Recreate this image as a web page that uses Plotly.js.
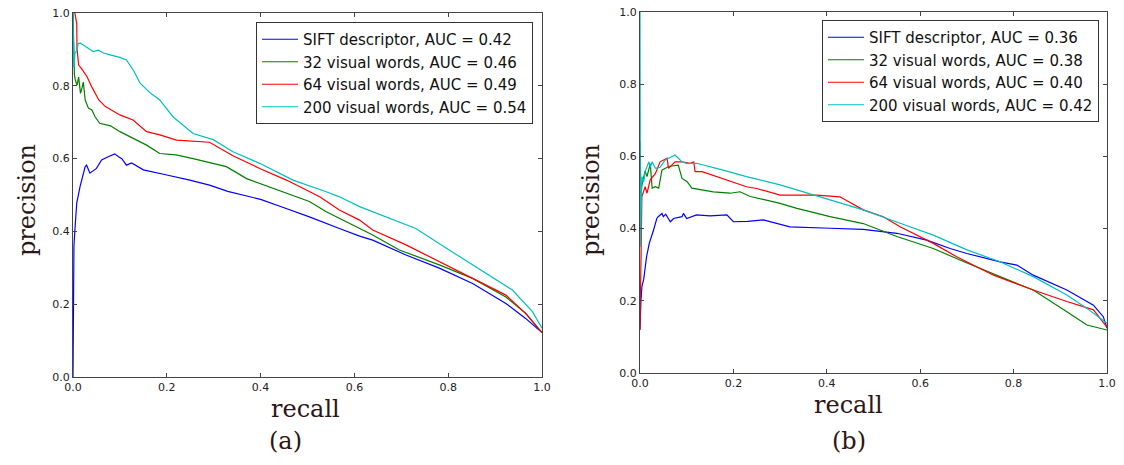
<!DOCTYPE html>
<html>
<head>
<meta charset="utf-8">
<script src="https://cdn.plot.ly/plotly-3.0.1.min.js"></script>
<style>html,body{margin:0;padding:0;background:#fff;}#chart{width:1124px;height:465px;}</style>
</head>
<body>
<div id="chart"></div>
<script>
// ---------- Data: panel (a) ----------
const seriesNames = ["SIFT descriptor", "32 visual words", "64 visual words", "200 visual words"];
const aucA = ["0.42", "0.46", "0.49", "0.54"];
const aucB = ["0.36", "0.38", "0.40", "0.42"];
const tickVals = [0, 0.2, 0.4, 0.6, 0.8, 1.0];
const tickText = ["0.0", "0.2", "0.4", "0.6", "0.8", "1.0"];

const siftA_recall = [0,0.001,0.002,0.004,0.008,0.015,0.019,0.026,0.029,0.036,0.05,0.061,0.075,0.089,0.097,0.104,0.114,0.125,0.15,0.185,0.2,0.249,0.291,0.33,0.4,0.45,0.504,0.568,0.611,0.639,0.71,0.781,0.852,0.923,0.965,1.0];
const siftA_prec   = [0,0.2,0.36,0.404,0.478,0.523,0.541,0.578,0.582,0.56,0.573,0.596,0.605,0.613,0.605,0.6,0.582,0.588,0.569,0.56,0.555,0.541,0.527,0.51,0.488,0.465,0.44,0.408,0.387,0.376,0.335,0.299,0.257,0.202,0.161,0.122];

const w32A_recall = [0,0.003,0.005,0.0085,0.012,0.016,0.019,0.022,0.026,0.033,0.04,0.047,0.057,0.08,0.1,0.128,0.157,0.185,0.22,0.256,0.327,0.37,0.398,0.433,0.504,0.54,0.568,0.611,0.639,0.696,0.781,0.852,0.923,0.965,1.0];
const w32A_prec   = [1.0,0.83,0.816,0.802,0.824,0.779,0.793,0.81,0.761,0.738,0.734,0.715,0.697,0.69,0.674,0.655,0.637,0.614,0.61,0.6,0.578,0.545,0.532,0.514,0.482,0.454,0.436,0.408,0.39,0.349,0.308,0.271,0.22,0.175,0.122];

const w64A_recall = [0.004,0.008,0.0085,0.012,0.019,0.03,0.04,0.055,0.069,0.1,0.128,0.157,0.185,0.221,0.291,0.327,0.341,0.398,0.455,0.526,0.568,0.611,0.639,0.71,0.781,0.852,0.923,0.965,1.0];
const w64A_prec   = [1.0,0.97,0.902,0.857,0.846,0.825,0.797,0.761,0.743,0.72,0.706,0.674,0.665,0.651,0.645,0.62,0.608,0.573,0.541,0.495,0.459,0.431,0.404,0.363,0.317,0.271,0.225,0.175,0.122];

const w200A_recall = [0,0.002,0.004,0.0085,0.011,0.016,0.022,0.03,0.043,0.054,0.065,0.079,0.1,0.114,0.13,0.143,0.165,0.185,0.213,0.256,0.299,0.327,0.341,0.398,0.469,0.54,0.568,0.611,0.639,0.731,0.802,0.88,0.937,0.98,1.0];
const w200A_prec   = [1.0,0.85,0.889,0.898,0.916,0.917,0.912,0.905,0.894,0.898,0.89,0.885,0.878,0.871,0.84,0.807,0.78,0.761,0.715,0.669,0.652,0.63,0.619,0.587,0.541,0.509,0.495,0.468,0.454,0.408,0.349,0.285,0.239,0.179,0.134];

// ---------- Data: panel (b) ----------
const siftB_recall = [0,0.001,0.002,0.004,0.008,0.014,0.02,0.029,0.036,0.039,0.047,0.05,0.055,0.065,0.072,0.09,0.093,0.1,0.121,0.15,0.186,0.2,0.23,0.264,0.321,0.407,0.478,0.55,0.614,0.664,0.7,0.771,0.807,0.842,0.914,0.971,0.992,1.0];
const siftB_prec   = [0.12,0.17,0.2,0.239,0.26,0.322,0.36,0.396,0.428,0.433,0.442,0.433,0.44,0.419,0.428,0.433,0.442,0.428,0.438,0.435,0.438,0.419,0.42,0.424,0.405,0.401,0.398,0.387,0.368,0.345,0.331,0.308,0.299,0.271,0.23,0.188,0.156,0.124];

const w32B_recall = [0,0.002,0.004,0.008,0.011,0.015,0.019,0.022,0.026,0.033,0.04,0.047,0.061,0.075,0.082,0.09,0.101,0.111,0.133,0.157,0.193,0.214,0.236,0.3,0.336,0.407,0.478,0.55,0.628,0.685,0.771,0.842,0.914,0.957,1.0];
const w32B_prec   = [0.64,0.5,0.52,0.544,0.56,0.544,0.567,0.58,0.512,0.516,0.512,0.562,0.572,0.576,0.576,0.539,0.53,0.512,0.507,0.502,0.498,0.502,0.489,0.47,0.456,0.433,0.414,0.378,0.345,0.313,0.267,0.23,0.17,0.133,0.119];

const w64B_recall = [0,0.002,0.004,0.011,0.015,0.022,0.033,0.043,0.051,0.058,0.061,0.068,0.075,0.09,0.108,0.115,0.118,0.133,0.164,0.193,0.228,0.25,0.3,0.378,0.428,0.478,0.521,0.557,0.628,0.678,0.757,0.842,0.914,0.971,1.0];
const w64B_prec   = [0.12,0.3,0.488,0.516,0.498,0.535,0.553,0.585,0.59,0.595,0.567,0.576,0.585,0.585,0.581,0.585,0.558,0.558,0.544,0.53,0.516,0.511,0.493,0.493,0.488,0.452,0.433,0.405,0.359,0.322,0.271,0.23,0.198,0.175,0.127];

const w200B_recall = [0,0.001,0.004,0.008,0.011,0.019,0.022,0.026,0.033,0.043,0.054,0.068,0.075,0.082,0.09,0.101,0.121,0.178,0.228,0.3,0.336,0.4,0.478,0.557,0.628,0.7,0.771,0.842,0.914,0.957,1.0];
const w200B_prec   = [1.0,0.35,0.544,0.53,0.558,0.585,0.57,0.585,0.567,0.57,0.59,0.599,0.604,0.595,0.585,0.58,0.581,0.562,0.544,0.521,0.507,0.484,0.452,0.415,0.382,0.341,0.308,0.267,0.216,0.179,0.138];

const colors = ["#0000ff", "#008000", "#ff0000", "#00bfbf"];

const dataA = [[siftA_recall, siftA_prec],[w32A_recall, w32A_prec],[w64A_recall, w64A_prec],[w200A_recall, w200A_prec]];
const dataB = [[siftB_recall, siftB_prec],[w32B_recall, w32B_prec],[w64B_recall, w64B_prec],[w200B_recall, w200B_prec]];

const traces = [];
dataA.forEach((d, i) => traces.push({
  x: d[0], y: d[1], type: "scatter", mode: "lines",
  name: seriesNames[i] + ", AUC = " + aucA[i],
  line: {color: colors[i], width: 1.2},
  xaxis: "x", yaxis: "y", legend: "legend"
}));
dataB.forEach((d, i) => traces.push({
  x: d[0], y: d[1], type: "scatter", mode: "lines",
  name: seriesNames[i] + ", AUC = " + aucB[i],
  line: {color: colors[i], width: 1.2},
  xaxis: "x2", yaxis: "y2", legend: "legend2"
}));

const W = 1124, H = 465;
function axis(domain, anchor) {
  return {
    domain: domain, anchor: anchor, range: [0, 1], fixedrange: true,
    tickvals: tickVals, ticktext: tickText,
    ticks: "inside", ticklen: 4, tickwidth: 1, tickcolor: "#444",
    showline: true, linecolor: "#444", linewidth: 1, mirror: "ticks",
    showgrid: false, zeroline: false,
    tickfont: {family: "DejaVu Sans", size: 11, color: "#222"}
  };
}
const serifFont = {family: "DejaVu Serif", size: 24, color: "#2b1717"};
const legendFont = {family: "DejaVu Sans", size: 15, color: "#111"};

const layout = {
  width: W, height: H,
  margin: {l: 0, r: 0, t: 0, b: 0},
  paper_bgcolor: "#fff", plot_bgcolor: "#fff",
  xaxis: axis([73/W, 542/W], "y"),
  yaxis: axis([(H-377)/H, (H-13)/H], "x"),
  xaxis2: axis([640/W, 1107/W], "y2"),
  yaxis2: axis([(H-373)/H, (H-12)/H], "x2"),
  legend: {x: 256/W, y: 1 - 22/H, xanchor: "left", yanchor: "top", bgcolor: "#fff",
           bordercolor: "#333", borderwidth: 1, font: legendFont, itemwidth: 36},
  legend2: {x: 822/W, y: 1 - 20/H, xanchor: "left", yanchor: "top", bgcolor: "#fff",
           bordercolor: "#333", borderwidth: 1, font: legendFont, itemwidth: 36},
  showlegend: true,
  annotations: [
    {text: "precision", xref: "paper", yref: "paper", x: 27/W, y: 1 - 200/H, textangle: -90, showarrow: false, font: serifFont, xanchor: "center", yanchor: "middle"},
    {text: "precision", xref: "paper", yref: "paper", x: 591/W, y: 1 - 200/H, textangle: -90, showarrow: false, font: serifFont, xanchor: "center", yanchor: "middle"},
    {text: "recall", xref: "paper", yref: "paper", x: 305/W, y: 1 - 409/H, showarrow: false, font: serifFont, xanchor: "center", yanchor: "middle"},
    {text: "recall", xref: "paper", yref: "paper", x: 848/W, y: 1 - 405/H, showarrow: false, font: serifFont, xanchor: "center", yanchor: "middle"},
    {text: "(a)", xref: "paper", yref: "paper", x: 285/W, y: 1 - 441/H, showarrow: false, font: serifFont, xanchor: "center", yanchor: "middle"},
    {text: "(b)", xref: "paper", yref: "paper", x: 849/W, y: 1 - 441/H, showarrow: false, font: serifFont, xanchor: "center", yanchor: "middle"}
  ]
};

Plotly.newPlot("chart", traces, layout, {staticPlot: true, displayModeBar: false});
</script>
</body>
</html>
